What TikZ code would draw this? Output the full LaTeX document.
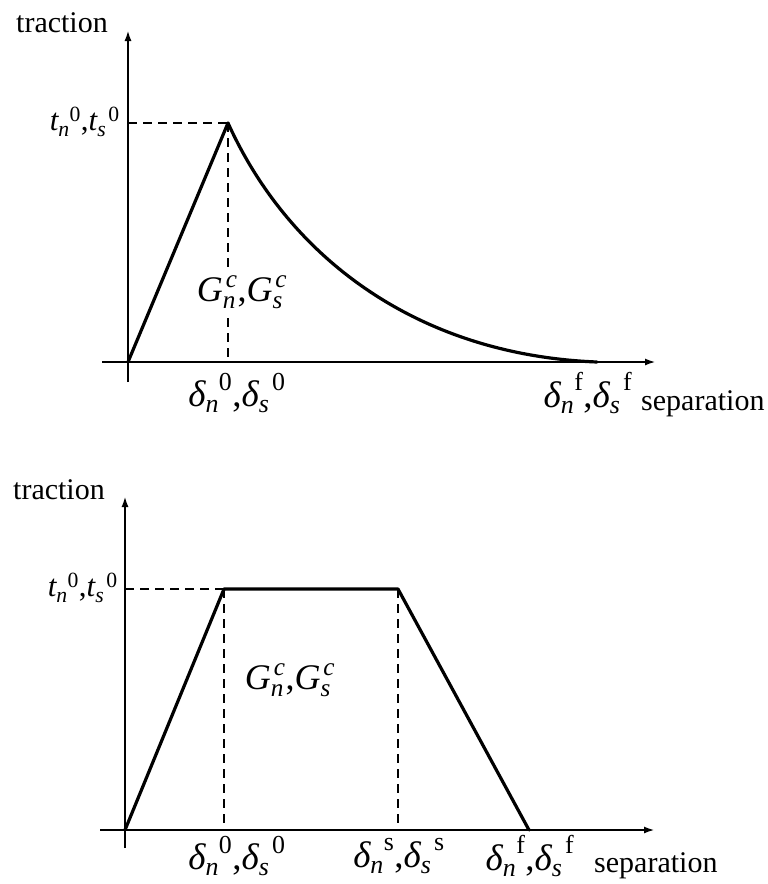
\documentclass[tikz,border=0pt]{standalone}
\usepackage{amsmath}
\usepackage{fontspec}
\setmainfont{Liberation Serif}
\usetikzlibrary{arrows.meta, positioning, calc}

% symbol with subscript and a superscript set after it
\newcommand{\lab}[3]{$\text{\itshape #1}^{\hspace{0.36em}\text{#3}}_{\text{\itshape #2}}$}
% stacked version for the energy label
\newcommand{\stk}[3]{$\text{\itshape #1}^{\hspace{0.08em}\text{#3}}_{\text{\itshape #2}}$}

\begin{document}
\begin{tikzpicture}[
  x=1pt, y=-1pt,
  axis/.style={line width=2.3pt, -{Latex[length=11pt, width=7pt]}},
  curve/.style={line width=3.2pt, line join=round, line cap=round},
  guide/.style={line width=2.3pt, dash pattern=on 9pt off 6pt},
  word/.style={font=\fontsize{30}{32}\selectfont, inner sep=0pt},
  sym/.style={font=\fontsize{37}{39}\selectfont, inner sep=0pt},
  tsym/.style={font=\fontsize{31}{33}\selectfont, inner sep=0pt},
  gsym/.style={font=\fontsize{36}{38}\selectfont, inner xsep=2pt, inner ysep=9pt},
]
\useasboundingbox (0,0) rectangle (768,884);

% Top: exponential softening law
\coordinate (xs1) at (102,362);
\coordinate (xe1) at (656,362);
\coordinate (ys1) at (128,382);
\coordinate (ye1) at (128,30);
\coordinate (t1) at (128,123);
\coordinate (p1) at (228,123);
\coordinate (b1) at (228,362);
\coordinate (o1) at (128,362);
\coordinate (f1) at (597,362);

\draw[axis] (xs1) -- (xe1);
\draw[axis] (ys1) -- (ye1);
\draw[guide] (t1) -- (p1);
\draw[guide] (p1) -- (b1);
\draw[curve] (o1) -- (p1) .. controls (290,260) and (420,355) .. (f1);

\node[word] (trac1) at (62,23) {traction};
\node[tsym, anchor=east] (tlab1) at (120,122) {\lab{t}{n}{0},\lab{t}{s}{0}};
\node[gsym, fill=white] (glab1) at (242,292) {\stk{G}{n}{\itshape c},\stk{G}{s}{\itshape c}};
\node[sym] (dlab1) at (237,393) {\lab{δ}{n}{0},\lab{δ}{s}{0}};
\node[sym] (flab1) at (588,393) {\lab{δ}{n}{f},\lab{δ}{s}{f}};
\node[word, anchor=base west] (sep1) at (641,410) {separation};

% Bottom: trapezoidal law
\coordinate (xs2) at (100,830);
\coordinate (xe2) at (655,830);
\coordinate (ys2) at (125,848);
\coordinate (ye2) at (125,496);
\coordinate (t2) at (125,589);
\coordinate (p2) at (224,589);
\coordinate (q2) at (398,589);
\coordinate (b2) at (224,830);
\coordinate (c2) at (398,830);
\coordinate (o2) at (125,830);
\coordinate (f2) at (529,830);

\draw[axis] (xs2) -- (xe2);
\draw[axis] (ys2) -- (ye2);
\draw[guide] (t2) -- (p2);
\draw[guide] (p2) -- (b2);
\draw[guide] (q2) -- (c2);
\draw[curve] (o2) -- (p2) -- (q2) -- (f2);

\node[word] (trac2) at (59,490) {traction};
\node[tsym, anchor=east] (tlab2) at (118,588) {\lab{t}{n}{0},\lab{t}{s}{0}};
\node[gsym] (glab2) at (290,680) {\stk{G}{n}{\itshape c},\stk{G}{s}{\itshape c}};
\node[sym] (dlab2) at (237,856) {\lab{δ}{n}{0},\lab{δ}{s}{0}};
\node[sym] (slab2) at (399,856) {\lab{δ}{n}{s},\lab{δ}{s}{s}};
\node[sym] (flab2) at (530,856) {\lab{δ}{n}{f},\lab{δ}{s}{f}};
\node[word, anchor=base west] (sep2) at (594,872) {separation};
\end{tikzpicture}
\end{document}
